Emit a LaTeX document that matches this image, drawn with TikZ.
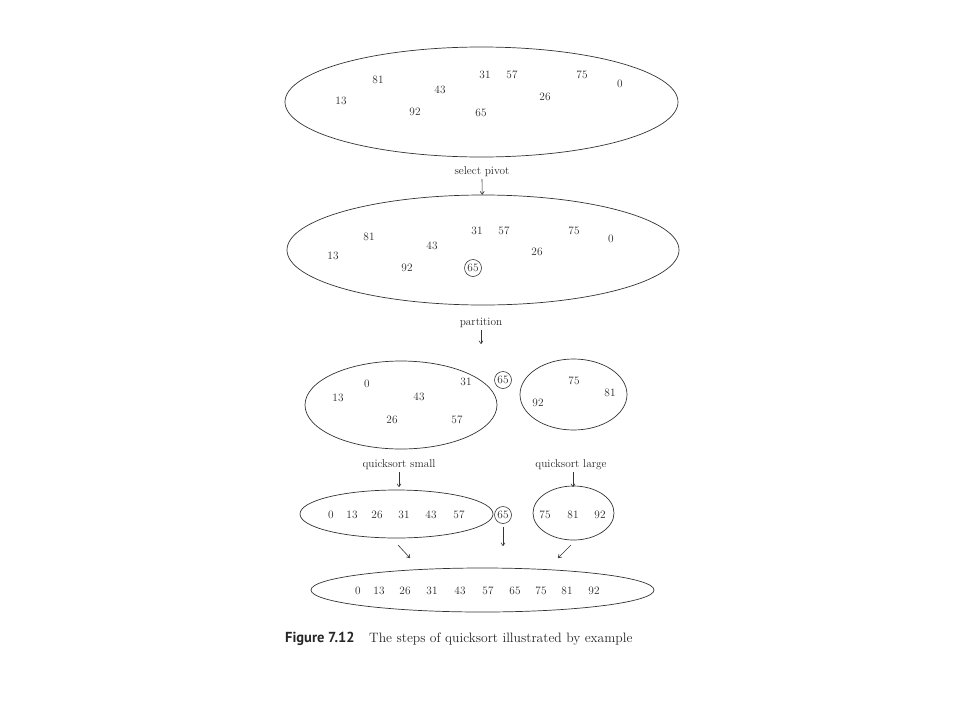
\documentclass[tikz,border=0pt]{standalone}
\usepackage{fontspec}
\newfontfamily\capfont{PT Sans}
\usetikzlibrary{shapes.geometric,arrows.meta}
\begin{document}
\begin{tikzpicture}[x=1pt,y=-1pt,
  every node/.style={font=\fontsize{11.3}{13}\selectfont, text=black!85, inner sep=0pt},
  set/.style={draw=black!80, line width=0.7pt, ellipse, minimum width=#1},
  num/.style={anchor=center},
  piv/.style={draw=black!80, line width=0.6pt, circle, minimum size=17pt},
  arr/.style={draw=black!80, line width=0.6pt, -{To[length=3.5pt,width=4.5pt]}},
  lab/.style={anchor=center, font=\fontsize{11.3}{13}\selectfont}]
\useasboundingbox (0,0) rectangle (960,720);
% step 1
\node[set=393pt, minimum height=110pt] (e1) at (481.5,102) {};
\node[num] (a81) at (378,80) {81};
\node[num] (a43) at (440,90) {43};
\node[num] (a31) at (485,75) {31};
\node[num] (a57) at (512,75) {57};
\node[num] (a75) at (582,75) {75};
\node[num] (a0) at (620,84) {0};
\node[num] (a13) at (341,101) {13};
\node[num] (a26) at (545,97) {26};
\node[num] (a92) at (415,112) {92};
\node[num] (a65) at (481,113) {65};
\node[lab] (l1) at (482,172) {select pivot};
% step 2
\node[set=392pt, minimum height=110pt] (e2) at (483,250) {};
\node[num] (b81) at (369,237) {81};
\node[num] (b43) at (432,246) {43};
\node[num] (b31) at (477,231) {31};
\node[num] (b57) at (504,231) {57};
\node[num] (b75) at (574,231) {75};
\node[num] (b0) at (611,239) {0};
\node[num] (b13) at (333,256) {13};
\node[num] (b26) at (537,252) {26};
\node[num] (b92) at (407,268) {92};
\node[piv] (b65) at (473,268) {65};
\node[lab] (l2) at (481,323) {partition};
\coordinate (t2) at (481,344);
% step 3
\node[set=192pt, minimum height=88pt] (e3) at (401,405) {};
\node[num] (c0) at (367,384) {0};
\node[num] (c31) at (466,382) {31};
\node[num] (c13) at (338,398) {13};
\node[num] (c43) at (419,397) {43};
\node[num] (c26) at (392,420) {26};
\node[num] (c57) at (457,420) {57};
\node[piv] (c65) at (503,380) {65};
\node[set=107pt, minimum height=71pt] (e4) at (573.5,394.5) {};
\node[num] (c75) at (574,381) {75};
\node[num] (c81) at (610,393) {81};
\node[num] (c92) at (538,403) {92};
\node[lab] (l3) at (399,465) {quicksort small};
\node[lab] (l4) at (571,465) {quicksort large};
% step 4
\node[set=193pt, minimum height=48pt] (e5) at (396.5,514) {};
\foreach \v/\x in {0/331,13/352,26/377,31/404,43/431,57/459}
  \node[num] (d\v) at (\x,515) {\v};
\node[piv] (d65) at (503,515) {65};
\node[set=81pt, minimum height=54pt] (e6) at (573.5,513) {};
\foreach \v/\x in {75/545,81/573,92/600}
  \node[num] (d\v) at (\x,515) {\v};
% final
\node[set=343pt, minimum height=44pt] (e7) at (482.5,590) {};
\foreach \v/\x in {0/358,13/379,26/405,31/432,43/460,57/488,65/515,75/541,81/567,92/594}
  \node[num] (f\v) at (\x,591) {\v};
% arrows
\draw[arr] ([yshift=-2pt]l1.south) -- (e2);
\draw[arr] ([yshift=-2pt]l2.south) -- (t2);
\coordinate (t3) at (399,487);
\coordinate (t4) at (573,487);
\draw[arr] ([yshift=-2pt]l3.south) -- (t3);
\draw[arr] ([xshift=2pt,yshift=-2pt]l4.south) -- (t4);
\coordinate (s1) at (398,545); \coordinate (s2) at (410,558);
\coordinate (s4) at (503,546);
\coordinate (s5) at (571,545); \coordinate (s6) at (558,558);
\draw[arr] (s1) -- (s2);
\draw[arr, shorten <=3pt] (d65) -- (s4);
\draw[arr] (s5) -- (s6);
% caption
\node[anchor=base west, font=\capfont\bfseries\fontsize{14.5}{16}\selectfont] (cap) at (285,642) {Figure 7.12};
\node[anchor=base west, font=\fontsize{13.6}{16}\selectfont] (capt) at (369,642) {The steps of quicksort illustrated by example};
\end{tikzpicture}
\end{document}
